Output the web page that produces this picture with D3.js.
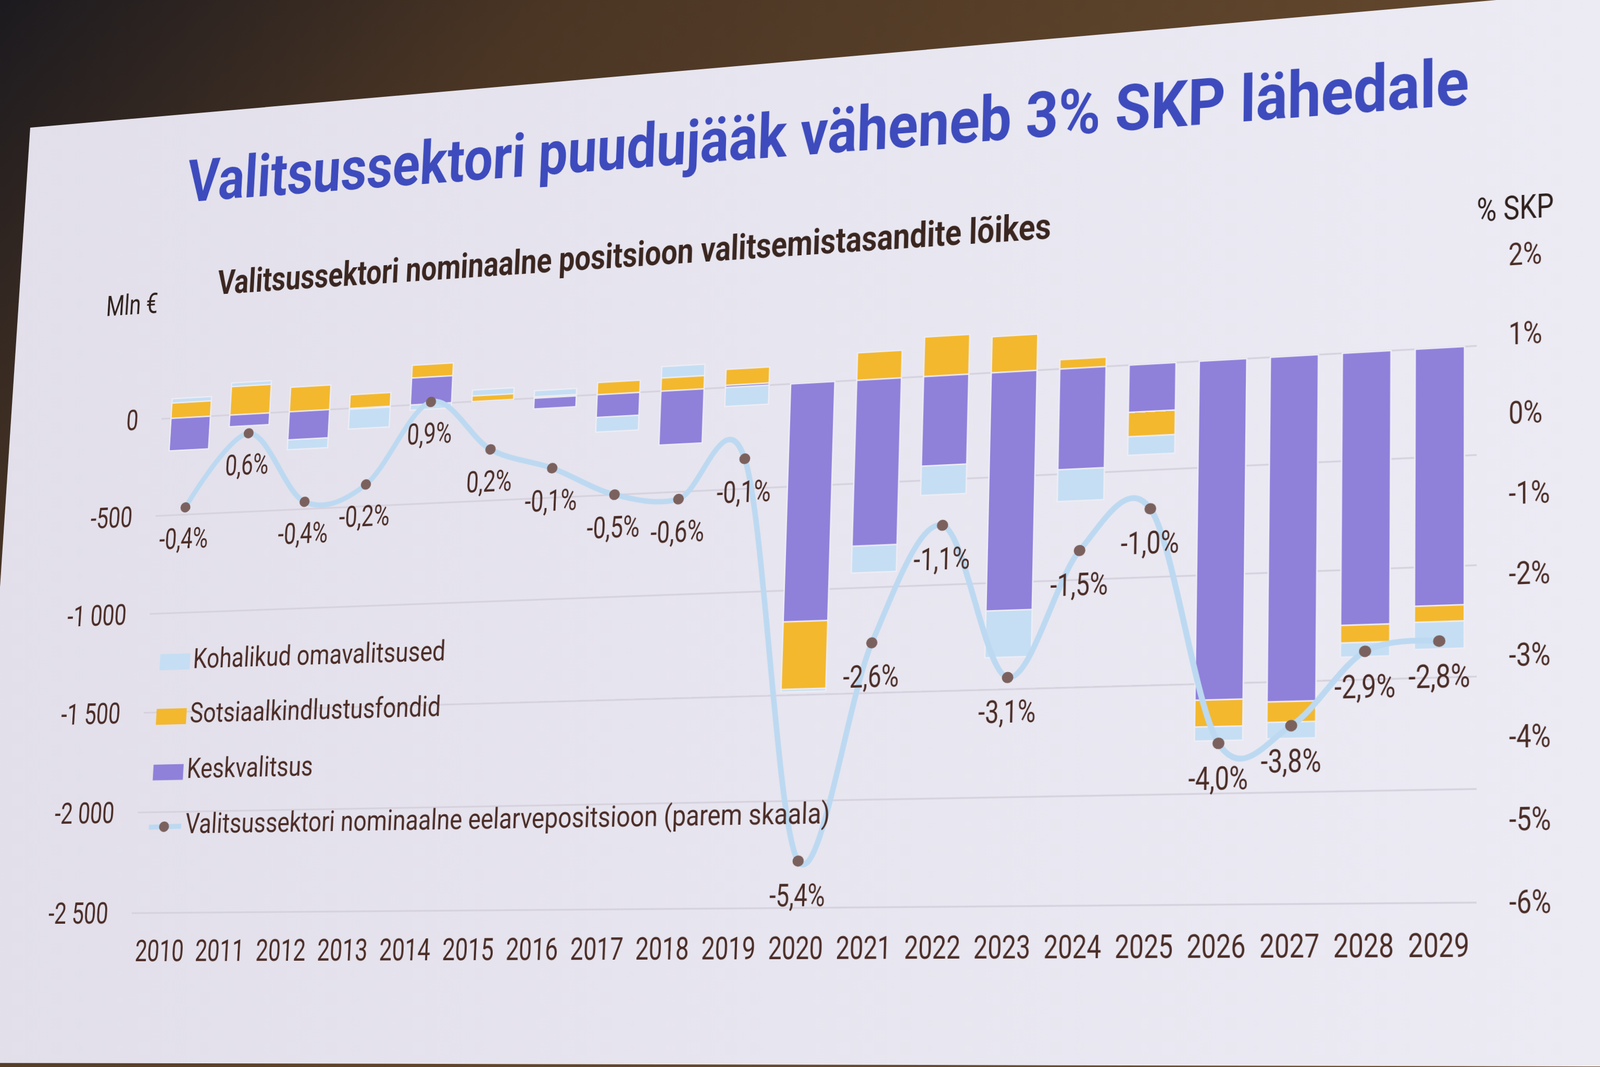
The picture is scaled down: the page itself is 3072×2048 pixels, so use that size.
<!DOCTYPE html>
<html>
<head>
<meta charset="utf-8">
<script src="https://cdn.jsdelivr.net/npm/d3@7"></script>
<style>
  html, body { margin: 0; padding: 0; width: 3072px; height: 2048px; overflow: hidden; background: #3b2a1c; }
  svg { position: absolute; left: 0; top: 0; }
  #chart { transform-origin: 0 0; overflow: visible; }
  text { font-family: Roboto, "Noto Sans", sans-serif; }
</style>
</head>
<body>
<svg id="room" width="3072" height="2048"></svg>
<svg id="chart" width="3300" height="2300"></svg>
<script>
// values (Mln € per government level, % of GDP for the line)
const years = ["2010", "2011", "2012", "2013", "2014", "2015", "2016", "2017", "2018", "2019",
               "2020", "2021", "2022", "2023", "2024", "2025", "2026", "2027", "2028", "2029"];
const keskvalitsus = [-168, -60, -144, -5, 137, 0, -54, -113, -266, 11,
                      -1150, -800, -431, -1131, -479, -224, -1574, -1590, -1252, -1176];
const sotsiaalkindlustus = [79, 146, 125, 69, 64, 28, 7, 60, 65, 78,
                            -322, 133, 191, 173, 44, -115, -122, -93, -80, -73];
const kohalikud = [22, 19, -50, -100, -26, 30, 30, -73, 56, -93,
                   -12, -128, -140, -219, -150, -87, -64, -74, -64, -122];
const eelarvepositsioon = [-0.4, 0.6, -0.4, -0.2, 0.9, 0.2, -0.1, -0.5, -0.6, -0.1,
                           -5.4, -2.6, -1.1, -3.1, -1.5, -1.0, -4.0, -3.8, -2.9, -2.8];
const leftTicks = [0, -500, -1000, -1500, -2000, -2500];
const rightTicks = [2, 1, 0, -1, -2, -3, -4, -5, -6];
const seriesKeys = ["kesk", "sots", "koh"];
const seriesNames = ["Kohalikud omavalitsused", "Sotsiaalkindlustusfondid", "Keskvalitsus",
                     "Valitsussektori nominaalne eelarvepositsioon (parem skaala)"];

const colors = {kesk: "#8f80da", sots: "#f3b82e", koh: "#c5def3"};
const textColor = "#4a2c26";

// flat slide plot area, and where its corners land in the photo
const PL = 310, PR = 2836, Y0 = 800, Y1 = 1800;
const photoCorners = [[310, 804], [2836, 664], [253, 1753], [2836, 1733]];

function homography(src, dst) {
  const A = [], b = [];
  src.forEach(([x, y], i) => {
    const [u, v] = dst[i];
    A.push([x, y, 1, 0, 0, 0, -u * x, -u * y]); b.push(u);
    A.push([0, 0, 0, x, y, 1, -v * x, -v * y]); b.push(v);
  });
  const n = 8;
  for (let c = 0; c < n; c++) {
    let p = c;
    for (let r = c + 1; r < n; r++) if (Math.abs(A[r][c]) > Math.abs(A[p][c])) p = r;
    [A[c], A[p]] = [A[p], A[c]]; [b[c], b[p]] = [b[p], b[c]];
    for (let r = c + 1; r < n; r++) {
      const f = A[r][c] / A[c][c];
      for (let k = c; k < n; k++) A[r][k] -= f * A[c][k];
      b[r] -= f * b[c];
    }
  }
  const h = new Array(n);
  for (let r = n - 1; r >= 0; r--) {
    let s = b[r];
    for (let k = r + 1; k < n; k++) s -= A[r][k] * h[k];
    h[r] = s / A[r][r];
  }
  return [[h[0], h[1], h[2]], [h[3], h[4], h[5]], [h[6], h[7], 1]];
}
function project(M, [x, y]) {
  const w = M[2][0] * x + M[2][1] * y + M[2][2];
  return [(M[0][0] * x + M[0][1] * y + M[0][2]) / w, (M[1][0] * x + M[1][1] * y + M[1][2]) / w];
}
function invert(m) {
  const [[a, b, c], [d, e, f], [g, h, i]] = m;
  const c00 = e * i - f * h, c01 = -(d * i - f * g), c02 = d * h - e * g;
  const det = a * c00 + b * c01 + c * c02;
  return [[c00 / det, -(b * i - c * h) / det, (b * f - c * e) / det],
          [c01 / det, (a * i - c * g) / det, -(a * f - c * d) / det],
          [c02 / det, -(a * h - b * g) / det, (a * e - b * d) / det]];
}

const H = homography([[PL, Y0], [PR, Y0], [PL, Y1], [PR, Y1]], photoCorners);
const Hinv = invert(H);
const toFlat = p => project(Hinv, p);
const scaleAt = f => {
  const a = project(H, f), b = project(H, [f[0], f[1] - 100]);
  return Math.hypot(a[0] - b[0], a[1] - b[1]) / 100;
};

// ---- room + projected screen, drawn straight in photo pixels
const room = d3.select("#room");
const defs = room.append("defs");
const bgGrad = defs.append("linearGradient").attr("id", "bg")
    .attr("x1", 0).attr("y1", 0).attr("x2", 1).attr("y2", 0.6);
bgGrad.append("stop").attr("offset", 0).attr("stop-color", "#1c1a1f");
bgGrad.append("stop").attr("offset", 0.25).attr("stop-color", "#4a3524");
bgGrad.append("stop").attr("offset", 0.6).attr("stop-color", "#5e442b");
bgGrad.append("stop").attr("offset", 1).attr("stop-color", "#6b4d31");
const slideGrad = defs.append("linearGradient").attr("id", "slide")
    .attr("x1", 0).attr("y1", 0).attr("x2", 1).attr("y2", 0);
slideGrad.append("stop").attr("offset", 0).attr("stop-color", "#e2dfea");
slideGrad.append("stop").attr("offset", 1).attr("stop-color", "#ecebf4");
room.append("rect").attr("width", 3072).attr("height", 2048).attr("fill", "url(#bg)");
room.append("polygon")
    .attr("points", [[58, 245], [3080, -18], [3080, 2047], [-60, 2040]].join(" "))
    .attr("fill", "url(#slide)");

// ---- the flat chart, then put into perspective
const svg = d3.select("#chart")
    .style("transform", `matrix3d(${H[0][0]},${H[1][0]},0,${H[2][0]},${H[0][1]},${H[1][1]},0,${H[2][1]},0,0,1,0,${H[0][2]},${H[1][2]},0,1)`);

const loc = d3.formatLocale({decimal: ",", thousands: "\u00a0", grouping: [3], currency: ["", " €"], minus: "-"});
const fmtMln = loc.format(",d");
const fmtPct = loc.format(".1f");

const topY = Y0 - 410 * (Y1 - Y0) / 2500;
const yL = d3.scaleLinear().domain([-2500, 410]).range([Y1, topY]);
const yR = d3.scaleLinear().domain([-6, 2]).range([Y1, topY]);
const x = d3.scaleBand().domain(years).range([PL, PR]).paddingInner(0.33).paddingOuter(0.165);
const cx = d => x(d) + x.bandwidth() / 2;

function condense(sel, k) {
  sel.each(function () {
    const w = this.getComputedTextLength();
    d3.select(this).attr("textLength", w * k).attr("lengthAdjust", "spacingAndGlyphs");
  });
}
function slideText(str, from, to, cap) {
  const f0 = toFlat(from), f1 = toFlat(to);
  return svg.append("text")
      .attr("x", f0[0]).attr("y", f0[1])
      .attr("font-size", cap / 0.711 / scaleAt(f0))
      .attr("textLength", f1[0] - f0[0]).attr("lengthAdjust", "spacingAndGlyphs")
      .text(str);
}

// gridlines
svg.append("g")
    .selectAll("line")
    .data(leftTicks)
    .join("line")
      .attr("x1", PL).attr("x2", PR)
      .attr("y1", d => yL(d)).attr("y2", d => yL(d))
      .attr("stroke", "#d4d0dc").attr("stroke-width", 3);

// stacked bars
const table = years.map((yr, i) => ({year: yr, kesk: keskvalitsus[i], sots: sotsiaalkindlustus[i], koh: kohalikud[i]}));
const stacked = d3.stack().keys(seriesKeys).offset(d3.stackOffsetDiverging)(table);
svg.append("g")
  .selectAll("g")
  .data(stacked)
  .join("g")
    .attr("fill", s => colors[s.key])
  .selectAll("rect")
  .data(s => s.filter(d => d[1] !== d[0]))
  .join("rect")
    .attr("x", d => x(d.data.year))
    .attr("width", x.bandwidth())
    .attr("y", d => yL(Math.max(d[0], d[1])))
    .attr("height", d => Math.abs(yL(d[0]) - yL(d[1])))
    .attr("stroke", "#eeedf5").attr("stroke-width", 2.5);

// left axis
const axL = svg.append("g")
    .attr("transform", `translate(${PL},0)`)
    .call(d3.axisLeft(yL).tickValues(leftTicks).tickSize(0).tickPadding(50).tickFormat(fmtMln));
axL.select(".domain").remove();
axL.attr("font-size", 60).attr("color", textColor);
condense(axL.selectAll("text"), 0.77);

// right axis
const axR = svg.append("g")
    .attr("transform", `translate(${PR},0)`)
    .call(d3.axisRight(yR).tickValues(rightTicks).tickSize(0).tickPadding(54).tickFormat(d => loc.format("d")(d) + "%"));
axR.select(".domain").remove();
axR.attr("font-size", 58).attr("color", textColor);
condense(axR.selectAll("text"), 0.76);

// years
const axB = svg.append("g")
    .attr("transform", `translate(0,${Y1})`)
    .call(d3.axisBottom(x).tickSize(0).tickPadding(52));
axB.select(".domain").remove();
axB.attr("font-size", 60).attr("color", textColor);
condense(axB.selectAll("text"), 0.76);

// budget balance line (right scale)
const line = d3.line()
    .x((d, i) => cx(years[i]))
    .y(d => yR(d))
    .curve(d3.curveCardinal.tension(0));
svg.append("path")
    .datum(eelarvepositsioon)
    .attr("d", line)
    .attr("fill", "none")
    .attr("stroke", "#bcd9f1")
    .attr("stroke-width", 10.5);
svg.append("g")
  .selectAll("circle")
  .data(eelarvepositsioon)
  .join("circle")
    .attr("cx", (d, i) => cx(years[i]))
    .attr("cy", d => yR(d))
    .attr("r", 10.5)
    .attr("fill", "#7b615e");
const labels = svg.append("g")
    .attr("fill", textColor).attr("font-size", 59).attr("text-anchor", "middle")
  .selectAll("text")
  .data(eelarvepositsioon)
  .join("text")
    .attr("x", (d, i) => cx(years[i]))
    .attr("y", d => yR(d) + 84)
    .text(d => fmtPct(d) + "%");
condense(labels, 0.76);

// titles
slideText("Valitsussektori puudujääk väheneb 3% SKP lähedale", [358, 388], [2821, 201], 80)
    .attr("fill", "#3d4bbd").attr("font-weight", 700);
slideText("Valitsussektori nominaalne positsioon valitsemistasandite lõikes", [417, 565], [2018, 449], 46)
    .attr("fill", "#3a2620").attr("font-weight", 700);
slideText("Mln €", [203, 607], [302, 603], 38).attr("fill", "#2e201c");
slideText("% SKP", [2836, 426], [2984, 418], 44).attr("fill", "#2e201c");

// legend
const legendBoxes = [
  {key: "koh", box: [[308, 1256], [364, 1285]], text: [[370, 1283], [855, 1262]]},
  {key: "sots", box: [[301, 1361], [357, 1390]], text: [[364, 1387], [846, 1369]]},
  {key: "kesk", box: [[295, 1468], [351, 1497]], text: [[358, 1494], [600, 1487]]}
];
legendBoxes.forEach((lg, i) => {
  const a = toFlat(lg.box[0]), b = toFlat(lg.box[1]);
  svg.append("rect").attr("x", a[0]).attr("y", a[1])
      .attr("width", b[0] - a[0]).attr("height", b[1] - a[1])
      .attr("fill", colors[lg.key]);
  slideText(seriesNames[i], lg.text[0], lg.text[1], 38).attr("fill", textColor);
});
const l0 = toFlat([286, 1588]), l1 = toFlat([348, 1586]), ld = toFlat([315, 1587]);
svg.append("line").attr("x1", l0[0]).attr("y1", l0[1]).attr("x2", l1[0]).attr("y2", l1[1])
    .attr("stroke", "#bcd9f1").attr("stroke-width", 10);
svg.append("circle").attr("cx", ld[0]).attr("cy", ld[1]).attr("r", 10.5).attr("fill", "#7b615e");
slideText(seriesNames[3], [355, 1600], [1594, 1566], 38).attr("fill", textColor);
</script>
</body>
</html>
